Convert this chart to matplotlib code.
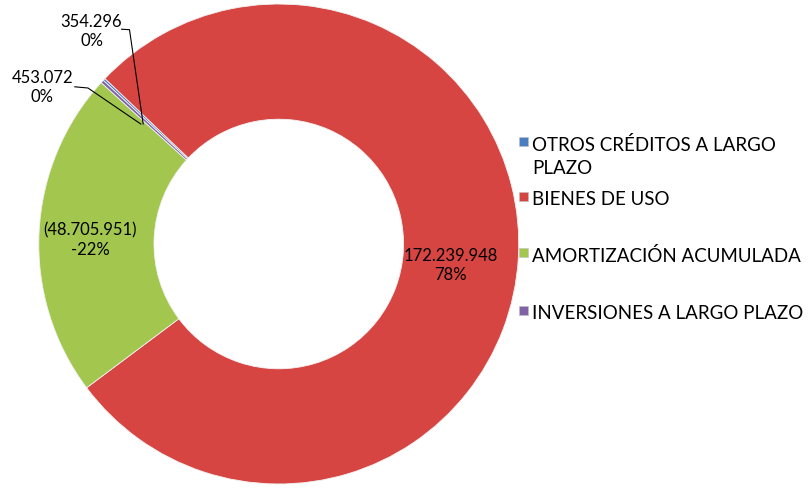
import matplotlib as mpl
import matplotlib.pyplot as plt
from matplotlib.patches import Rectangle

mpl.rc('font', family=['Lato', 'DejaVu Sans'], size=12)

categorias = ['OTROS CRÉDITOS A LARGO\nPLAZO', 'BIENES DE USO',
              'AMORTIZACIÓN ACUMULADA', 'INVERSIONES A LARGO PLAZO']
valores = [354296, 172239948, -48705951, 453072]
colores = ['#4A7EC0', '#D64541', '#A2C64E', '#8062A6']


def fmt_num(v):
    s = f"{abs(v):,}".replace(",", ".")
    return f"({s})" if v < 0 else s


total = sum(abs(v) for v in valores)
etiquetas = [f"{fmt_num(v)}\n{round(100 * v / total):.0f}%" for v in valores]

fig = plt.figure(figsize=(8.08, 4.89), dpi=100)
ax = fig.add_axes([0.048, 0.008, 0.594, 0.982])

wedges, _ = ax.pie([abs(v) for v in valores], colors=colores, radius=1.0,
                   startangle=137, counterclock=False,
                   wedgeprops=dict(width=0.48, edgecolor='#f2f2f2', linewidth=0.6))
ax.set_xlim(-1, 1)
ax.set_ylim(-1, 1)
ax.set_aspect('equal')
ax.axis('off')

# etiquetas dentro del anillo
ax.text(0.715, -0.085, etiquetas[1], ha='center', va='center', linespacing=1.25)
ax.text(-0.785, 0.02, etiquetas[2], ha='center', va='center', linespacing=1.25)

# etiquetas de las porciones pequeñas con línea guía
ax.text(-0.78, 0.89, etiquetas[0], ha='center', va='center', linespacing=1.25)
ax.plot([-0.655, -0.622, -0.565], [0.895, 0.893, 0.5], color='black', lw=0.8)
ax.text(-0.985, 0.655, etiquetas[3], ha='center', va='center', linespacing=1.25)
ax.plot([-0.85, -0.795, -0.575], [0.655, 0.65, 0.5], color='black', lw=0.8)

# leyenda
filas = [142, 197, 253, 311]
for lab, col, y in zip(categorias, colores, filas):
    fig.patches.append(Rectangle((519 / 808, 1 - (y + 4.5) / 489), 9 / 808, 9 / 489,
                                 transform=fig.transFigure, facecolor=col,
                                 edgecolor='#bfbfbf', linewidth=0.4))
    fig.text(532 / 808, 1 - (y - 6) / 489, lab, ha='left', va='top',
             fontsize=13.5, linespacing=1.4)

fig.savefig('out.png', dpi=100)
